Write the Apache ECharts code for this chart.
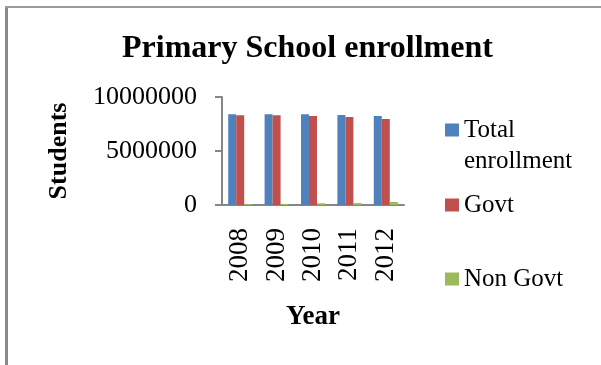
<!DOCTYPE html>
<html>
<head>
<meta charset="utf-8">
<script src="https://cdn.jsdelivr.net/npm/echarts@6/dist/echarts.min.js"></script>
<style>
  html, body { margin: 0; padding: 0; background: #fff; }
  #chart { width: 601px; height: 365px; }
</style>
</head>
<body>
<div id="chart"></div>
<script>
// Enrollment figures per year
const years = ['2008', '2009', '2010', '2011', '2012'];
const totalEnrollment = [8400000, 8400000, 8400000, 8330000, 8240000];
const govt = [8300000, 8300000, 8240000, 8150000, 7960000];
const nonGovt = [100000, 100000, 160000, 180000, 280000];
const yTicks = [0, 5000000, 10000000];

const serif = '"Liberation Serif", "Times New Roman", serif';
const axisGray = '#868686';

const chart = echarts.init(document.getElementById('chart'), null, { renderer: 'canvas' });

const legendBase = {
  orient: 'vertical',
  left: 445,
  padding: 0,
  itemWidth: 14,
  itemHeight: 13,
  icon: 'rect',
  selectedMode: false,
  textStyle: { fontFamily: serif, fontSize: 25, color: '#000', lineHeight: 26, padding: [4, 0, 0, 0] }
};

chart.setOption({
  animation: false,
  backgroundColor: '#fff',
  title: {
    text: 'Primary School enrollment',
    left: 117,
    top: 28,
    textStyle: { fontFamily: serif, fontSize: 32, fontWeight: 'bold', color: '#000' }
  },
  legend: [
    Object.assign({}, legendBase, { top: 115, data: ['Total enrollment'], formatter: () => 'Total' }),
    Object.assign({}, legendBase, { top: 190, data: ['Govt'] }),
    Object.assign({}, legendBase, { top: 264, data: ['Non Govt'] })
  ],
  graphic: [
    { type: 'text', left: 464, top: 149,
      style: { text: 'enrollment', font: '25px ' + serif, fill: '#000' } },
    { type: 'line', shape: { x1: 6.5, y1: 6, x2: 6.5, y2: 365 },
      style: { stroke: '#8a8a8a', lineWidth: 3 } },
    { type: 'line', shape: { x1: 5, y1: 7, x2: 601, y2: 7 },
      style: { stroke: '#9a9a9a', lineWidth: 2 } }
  ],
  grid: { left: 222, right: 197, top: 97, bottom: 160, containLabel: false },
  xAxis: {
    type: 'category',
    data: years,
    name: 'Year',
    nameLocation: 'middle',
    nameGap: 99,
    nameTextStyle: { fontFamily: serif, fontSize: 27, fontWeight: 'bold', color: '#000' },
    axisLine: { lineStyle: { color: axisGray, width: 2 } },
    axisTick: { length: 7, lineStyle: { color: axisGray, width: 2 } },
    axisLabel: { rotate: 90, margin: 23, fontFamily: serif, fontSize: 27, color: '#000' }
  },
  yAxis: {
    type: 'value',
    min: 0,
    max: 10000000,
    interval: 5000000,
    name: 'Students',
    nameLocation: 'middle',
    nameGap: 150,
    nameRotate: 90,
    nameTextStyle: { fontFamily: serif, fontSize: 26, fontWeight: 'bold', color: '#000' },
    splitLine: { show: false },
    axisLine: { show: true, lineStyle: { color: axisGray, width: 2 } },
    axisTick: { show: true, length: 7, lineStyle: { color: axisGray, width: 2 } },
    axisLabel: {
      margin: 25, fontFamily: serif, fontSize: 26, color: '#000',
      formatter: v => yTicks.indexOf(v) >= 0 ? String(v) : ''
    }
  },
  series: [
    { name: 'Total enrollment', type: 'bar', data: totalEnrollment, barWidth: 8, barGap: '0%',
      itemStyle: { color: '#4f81bd' } },
    { name: 'Govt', type: 'bar', data: govt, barWidth: 8, barGap: '0%',
      itemStyle: { color: '#c0504d' } },
    { name: 'Non Govt', type: 'bar', data: nonGovt, barWidth: 8, barGap: '0%',
      itemStyle: { color: '#9bbb59' } }
  ]
});
</script>
</body>
</html>
